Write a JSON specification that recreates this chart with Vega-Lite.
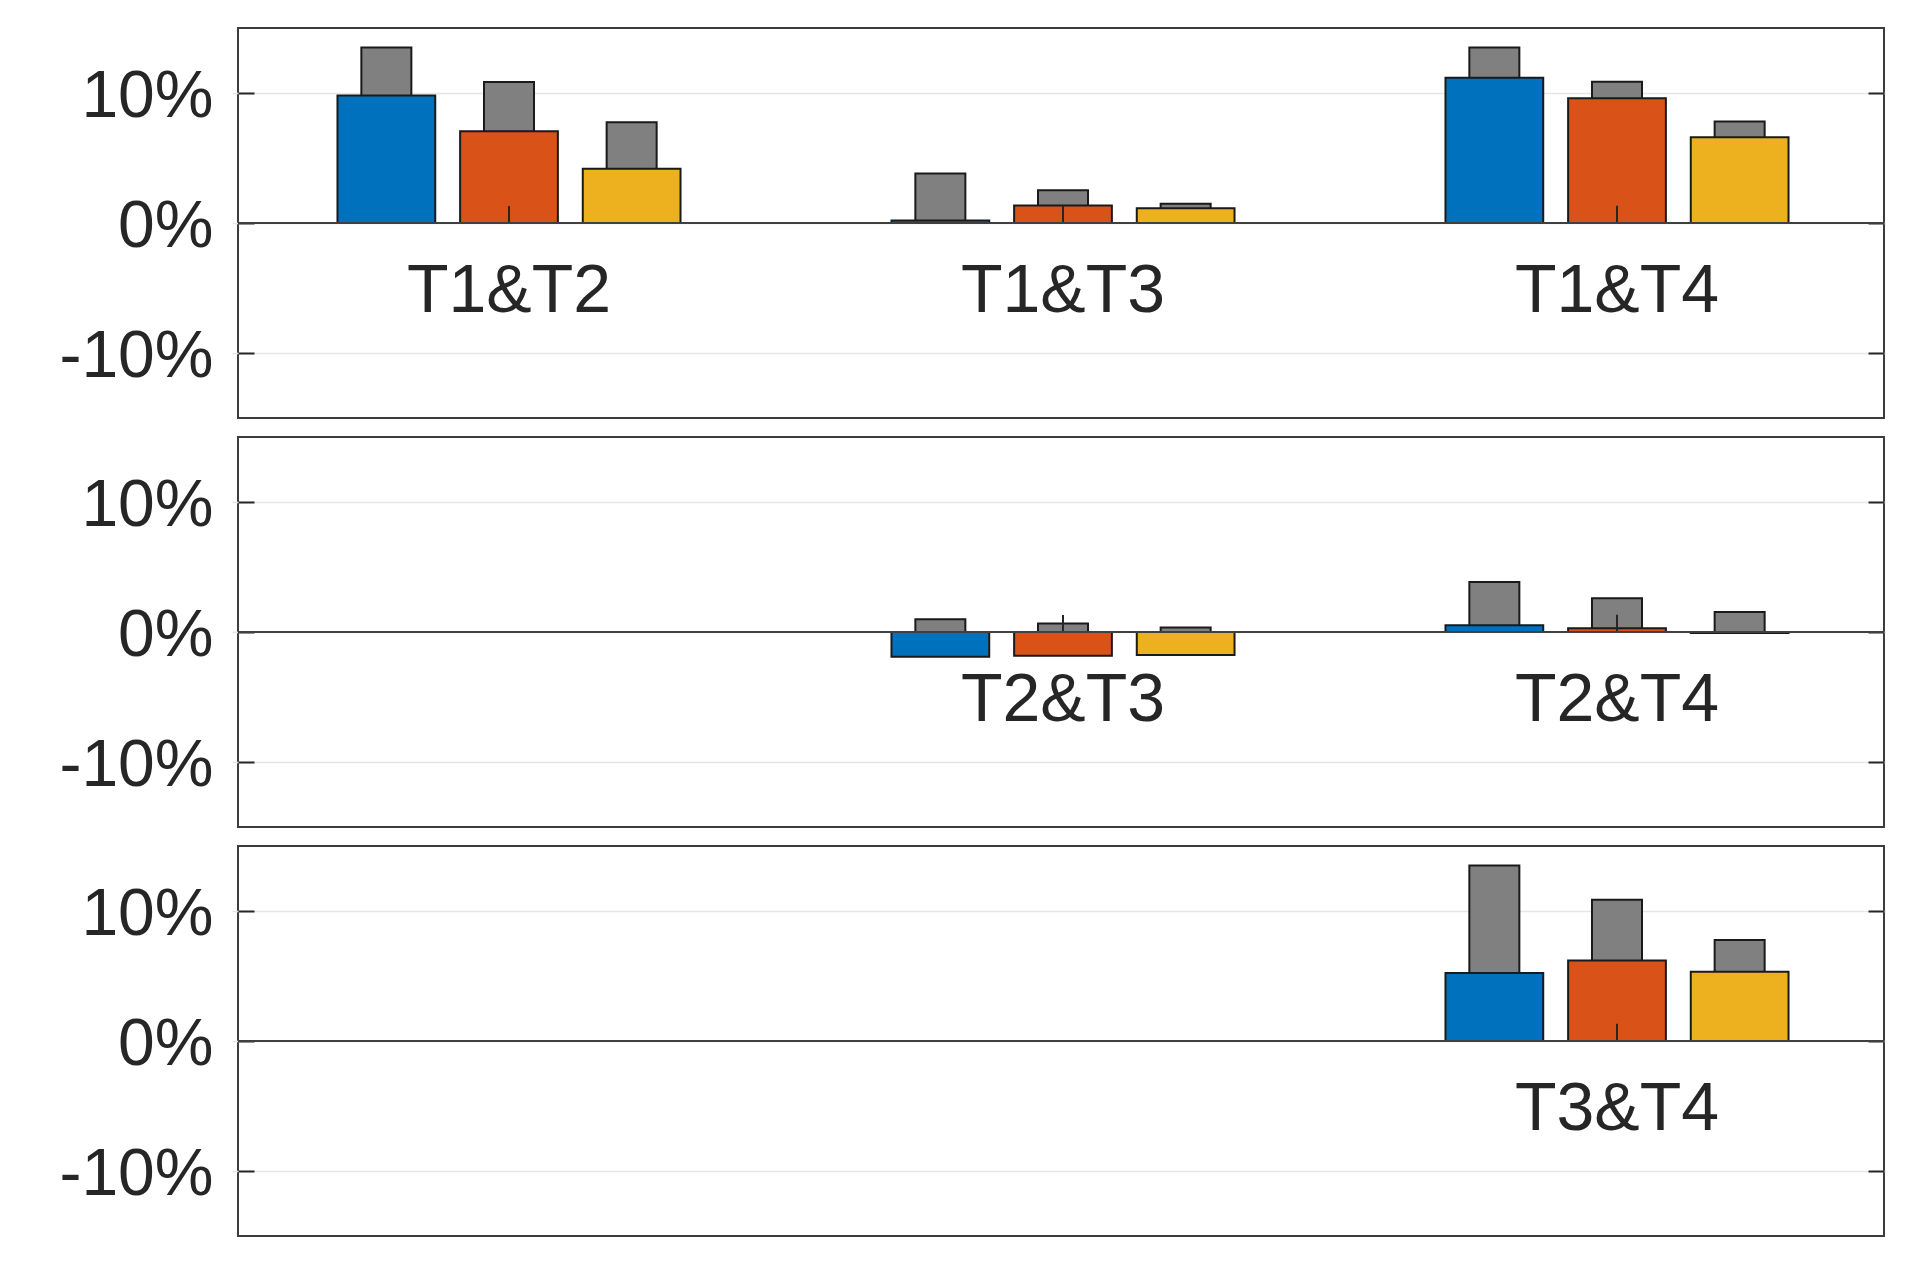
{
  "$schema": "https://vega.github.io/schema/vega-lite/v6.json",
  "background": "white",
  "padding": {"left": 53, "top": 27, "right": 0, "bottom": 0},
  "config": {
    "view": {"stroke": "#3c3c3c", "strokeWidth": 2},
    "font": "Liberation Sans"
  },
  "data": {
    "values": [
      {"panel": 1, "pos": 1, "series": "A", "val": 9.8, "ref": 13.5, "label": "T1&T2"},
      {"panel": 1, "pos": 1, "series": "B", "val": 7.05, "ref": 10.85, "tick": 1.3, "label": "T1&T2"},
      {"panel": 1, "pos": 1, "series": "C", "val": 4.18, "ref": 7.75, "label": "T1&T2"},
      {"panel": 1, "pos": 2, "series": "A", "val": 0.2, "ref": 3.8, "label": "T1&T3"},
      {"panel": 1, "pos": 2, "series": "B", "val": 1.34, "ref": 2.52, "tick": 1.3, "label": "T1&T3"},
      {"panel": 1, "pos": 2, "series": "C", "val": 1.13, "ref": 1.49, "label": "T1&T3"},
      {"panel": 1, "pos": 3, "series": "A", "val": 11.17, "ref": 13.5, "label": "T1&T4"},
      {"panel": 1, "pos": 3, "series": "B", "val": 9.59, "ref": 10.87, "tick": 1.33, "label": "T1&T4"},
      {"panel": 1, "pos": 3, "series": "C", "val": 6.6, "ref": 7.8, "label": "T1&T4"},
      {"panel": 2, "pos": 2, "series": "A", "val": -1.9, "ref": 0.98, "label": "T2&T3"},
      {"panel": 2, "pos": 2, "series": "B", "val": -1.82, "ref": 0.65, "tick": 1.3, "label": "T2&T3"},
      {"panel": 2, "pos": 2, "series": "C", "val": -1.77, "ref": 0.34, "label": "T2&T3"},
      {"panel": 2, "pos": 3, "series": "A", "val": 0.51, "ref": 3.85, "label": "T2&T4"},
      {"panel": 2, "pos": 3, "series": "B", "val": 0.28, "ref": 2.6, "tick": 1.33, "label": "T2&T4"},
      {"panel": 2, "pos": 3, "series": "C", "val": -0.08, "ref": 1.54, "label": "T2&T4"},
      {"panel": 3, "pos": 3, "series": "A", "val": 5.24, "ref": 13.5, "label": "T3&T4"},
      {"panel": 3, "pos": 3, "series": "B", "val": 6.19, "ref": 10.87, "tick": 1.33, "label": "T3&T4"},
      {"panel": 3, "pos": 3, "series": "C", "val": 5.32, "ref": 7.77, "label": "T3&T4"}
    ]
  },
  "facet": {"row": {"field": "panel", "type": "ordinal", "header": null}},
  "spacing": 17,
  "resolve": {"scale": {"y": "independent"}},
  "spec": {
    "width": 1646,
    "height": 390,
    "layer": [
      {
        "mark": {"type": "bar", "width": 50, "fill": "#808080", "stroke": "#1a1a1a", "strokeWidth": 2},
        "encoding": {
          "x": {"field": "pos", "type": "ordinal", "scale": {"domain": [1, 2, 3], "range": [-6, 1656], "paddingInner": 0, "paddingOuter": 0}, "axis": null},
          "xOffset": {"field": "series", "type": "nominal", "scale": {"domain": ["A", "B", "C"], "paddingInner": 0.203, "paddingOuter": 0.86}},
          "y": {
            "field": "ref",
            "type": "quantitative",
            "scale": {"domain": [-15, 15], "nice": false},
            "axis": {
              "orient": "left",
              "offset": -16,
              "values": [-10, 0, 10],
              "labelExpr": "datum.value + '%'",
              "labelFontSize": 66,
              "labelColor": "#262626",
              "labelFont": "Liberation Sans",
              "labelPadding": 25,
              "labelOffset": 3,
              "tickSize": 16,
              "tickColor": "#262626",
              "tickWidth": 2,
              "domain": false,
              "grid": true,
              "gridColor": "#e6e6e6",
              "gridWidth": 1.5,
              "title": null,
              "minExtent": 200,
              "maxExtent": 200
            }
          }
        }
      },
      {
        "mark": {"type": "bar", "stroke": "#1a1a1a", "strokeWidth": 2},
        "encoding": {
          "x": {"field": "pos", "type": "ordinal"},
          "xOffset": {"field": "series", "type": "nominal"},
          "y": {
            "field": "val",
            "type": "quantitative",
            "axis": {
              "orient": "right",
              "offset": -16,
              "values": [-10, 0, 10],
              "labels": false,
              "tickSize": 16,
              "tickColor": "#262626",
              "tickWidth": 2,
              "domain": false,
              "grid": false,
              "title": null,
              "minExtent": 0,
              "maxExtent": 0
            }
          },
          "fill": {
            "field": "series",
            "type": "nominal",
            "scale": {"domain": ["A", "B", "C"], "range": ["#0072BD", "#D95319", "#EDB120"]},
            "legend": null
          }
        }
      },
      {
        "transform": [{"filter": "isValid(datum.tick)"}],
        "mark": {"type": "rule", "color": "#262626", "strokeWidth": 2},
        "encoding": {
          "x": {"field": "pos", "type": "ordinal"},
          "xOffset": {"field": "series", "type": "nominal"},
          "y": {"field": "tick", "type": "quantitative", "axis": null},
          "y2": {"datum": 0}
        }
      },
      {
        "transform": [{"filter": "datum.pos == 3 && datum.series == 'B'"}],
        "mark": {"type": "rule", "color": "#404040", "strokeWidth": 2},
        "encoding": {
          "y": {"datum": 0, "type": "quantitative", "axis": null}
        }
      },
      {
        "transform": [{"filter": "datum.series == 'B'"}],
        "mark": {"type": "text", "fontSize": 68, "font": "Liberation Sans", "color": "#262626", "baseline": "alphabetic", "dy": 89},
        "encoding": {
          "x": {"field": "pos", "type": "ordinal"},
          "y": {"datum": 0, "type": "quantitative", "axis": null},
          "text": {"field": "label"}
        }
      }
    ],
    "resolve": {"axis": {"y": "independent"}}
  }
}
